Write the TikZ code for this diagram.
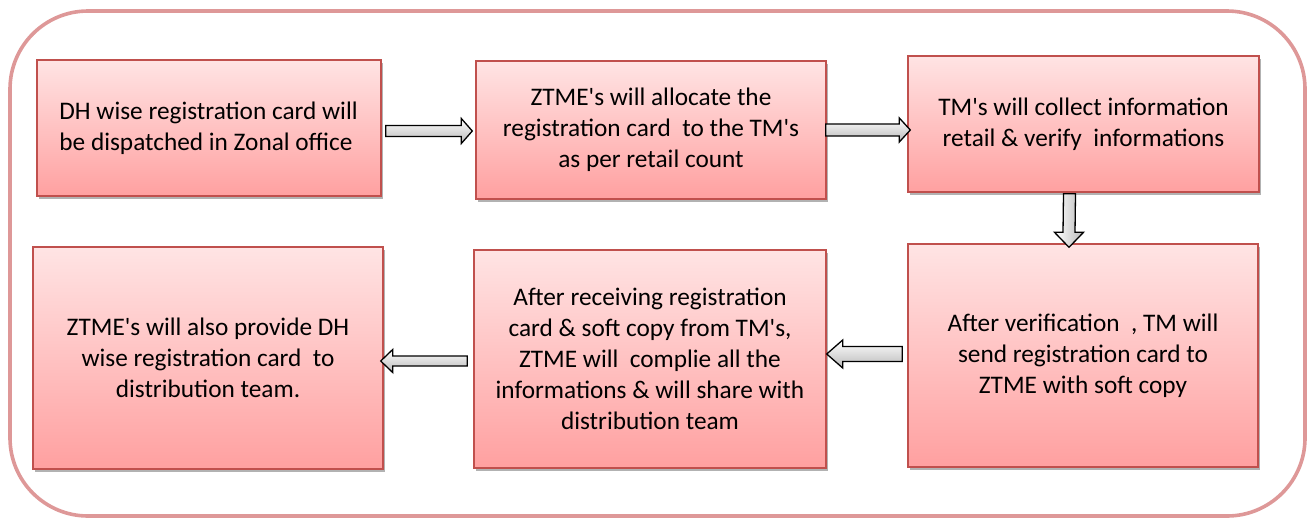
\documentclass[tikz,border=0pt]{standalone}
\usepackage{fontspec}
\setmainfont{Carlito}
\usetikzlibrary{calc,shadows}
\definecolor{frame}{RGB}{222,152,152}
\definecolor{boxline}{RGB}{192,80,77}
\definecolor{boxtop}{RGB}{255,228,228}
\definecolor{boxbot}{RGB}{255,160,160}
\definecolor{arrgray}{RGB}{185,185,185}
\newcommand\apo{\textquotesingle}
\tikzset{
  stepbox/.style={draw=boxline, line width=1.4pt, rectangle, inner sep=0pt,
    top color=boxtop, bottom color=boxbot, align=center,
    font=\fontsize{25.3}{31}\selectfont,
    drop shadow={shadow xshift=1.5pt, shadow yshift=-3pt, opacity=0.3, fill=black}},
  blk/.style={draw=black, line width=1.3pt, line join=miter, top color=white, bottom color=arrgray},
  blkv/.style={draw=black, line width=1.3pt, line join=miter, left color=white, right color=arrgray},
}
% horizontal block arrow: #1 start, #2 tip, #3 direction (1 right, -1 left), #4 shaft half, #5 head half, #6 head length
\newcommand\hblock[6]{%
  \draw[blk] ($(#1)+(0,-#4)$) -- ($(#2)+(-#3*#6,-#4)$) -- ($(#2)+(-#3*#6,-#5)$) -- (#2)
    -- ($(#2)+(-#3*#6,#5)$) -- ($(#2)+(-#3*#6,#4)$) -- ($(#1)+(0,#4)$) -- cycle;}
\newcommand\vblock[5]{%
  \draw[blkv] ($(#1)+(-#3,0)$) -- ($(#2)+(-#3,-#5)$) -- ($(#2)+(-#4,-#5)$) -- (#2)
    -- ($(#2)+(#4,-#5)$) -- ($(#2)+(#3,-#5)$) -- ($(#1)+(#3,0)$) -- cycle;}
\begin{document}
\begin{tikzpicture}[x=1pt,y=-1pt]
\useasboundingbox (0,0) rectangle (1311,517);
\draw[frame, line width=3.6pt, rounded corners=78pt] (10,11) rectangle (1305,516);

\node[stepbox, minimum width=344pt, minimum height=136pt, align=left] (b1) at (209,128)
  {DH wise registration card will\\be dispatched in Zonal office\hspace*{6pt}};
\node[stepbox, minimum width=350pt, minimum height=138pt] (b2) at (651,130)
  {ZTME\apo s will allocate the\\registration card\ \ to the TM\apo s\\as per retail count};
\node[stepbox, minimum width=351pt, minimum height=136pt] (b3) at (1083.5,124)
  {TM\apo s will collect information\\retail \& verify\ \ informations};
\node[stepbox, minimum width=350pt, minimum height=223pt] (b4) at (1083,355.5)
  {After verification\ \ , TM will\\send registration card to\\ZTME with soft copy};
\node[stepbox, minimum width=352pt, minimum height=218pt] (b5) at (650,359)
  {After receiving registration\\card \& soft copy from TM\apo s,\\ZTME will\ \ complie all the\\informations \& will share with\\distribution team};
\node[stepbox, minimum width=350pt, minimum height=222pt] (b6) at (208,358)
  {ZTME\apo s will also provide DH\\wise registration card\ \ to\\distribution team.};

\coordinate (a1s) at ($(b1.east)+(4,3)$);
\coordinate (a1e) at ($(b2.west)+(-3,1)$);
\hblock{a1s}{a1e}{1}{5.5}{12.5}{11}
\coordinate (a2s) at ($(b2.east)+(-1,0)$);
\coordinate (a2e) at ($(b3.west)+(3,6)$);
\hblock{a2s}{a2e}{1}{6}{12}{11}
\coordinate (a3s) at ($(b3.south)+(-14,1)$);
\coordinate (a3e) at ($(b4.north)+(-14,4)$);
\vblock{a3s}{a3e}{6}{14.5}{15}
\coordinate (a4s) at ($(b4.west)+(-5,-1.5)$);
\coordinate (a4e) at ($(b5.east)+(0,-5)$);
\hblock{a4s}{a4e}{-1}{7.5}{14}{16}
\coordinate (a5s) at ($(b5.west)+(-6,2)$);
\coordinate (a5e) at ($(b6.east)+(-3,3)$);
\hblock{a5s}{a5e}{-1}{5}{11.5}{12}
\end{tikzpicture}
\end{document}
